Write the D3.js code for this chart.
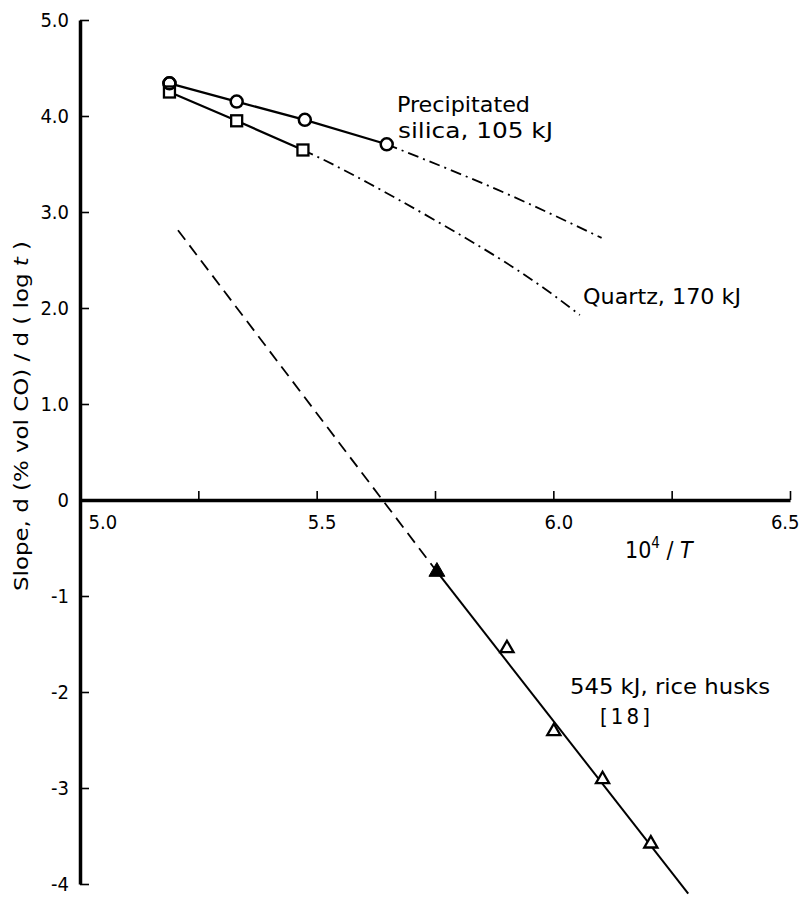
<!DOCTYPE html>
<html>
<head>
<meta charset="utf-8">
<script src="https://cdn.jsdelivr.net/npm/d3@7"></script>
<style>
  html, body { margin: 0; padding: 0; background: #fff; }
  svg { display: block; }
  text { font-family: "DejaVu Sans Condensed", "DejaVu Sans", sans-serif; fill: #000; }
</style>
</head>
<body>
<svg id="chart" width="799" height="898"></svg>
<script>
// ---- data ----
const xTickValues = [5.0, 5.25, 5.5, 5.75, 6.0, 6.25, 6.5];
const xTickLabels = ["5.0", "", "5.5", "", "6.0", "", "6.5"];
const yTickValues = [5, 4, 3, 2, 1, 0, -1, -2, -3, -4];
const yTickLabels = ["5.0", "4.0", "3.0", "2.0", "1.0", "0", "-1", "-2", "-3", "-4"];

// Precipitated silica (circles)
const silicaX = [5.189, 5.331, 5.475, 5.648];
const silicaY = [4.34, 4.15, 3.96, 3.705];
const silicaExtX = [5.648, 5.883, 6.102];
const silicaExtY = [3.705, 3.23, 2.73];

// Quartz (squares)
const quartzX = [5.189, 5.331, 5.471];
const quartzY = [4.25, 3.95, 3.646];
const quartzExtX = [5.471, 5.609, 5.881, 6.056];
const quartzExtY = [3.646, 3.302, 2.531, 1.927];

// Rice husks (triangles)
const riceFilledX = [5.754];
const riceFilledY = [-0.747];
const riceOpenX = [5.902, 6.001, 6.104, 6.206];
const riceOpenY = [-1.545, -2.41, -2.91, -3.58];
const riceDashX = [5.207, 5.754];
const riceDashY = [2.81, -0.747];
const riceSolidX = [5.754, 6.285];
const riceSolidY = [-0.747, -4.10];

// ---- scales ----
const svg = d3.select("#chart");
const x = d3.scaleLinear().domain([5.0, 6.5]).range([80, 790]);
const y = d3.scaleLinear().domain([-4, 5]).range([884, 20]);

const zip = (xs, ys) => xs.map((v, i) => [v, ys[i]]);
const line = d3.line().x(d => x(d[0])).y(d => y(d[1]));
const curve = d3.line().x(d => x(d[0])).y(d => y(d[1])).curve(d3.curveNatural);
const FONT = "'DejaVu Sans Condensed','DejaVu Sans',sans-serif";
const FONT2 = "'DejaVu Sans',sans-serif";

// ---- axes ----
const yAxis = svg.append("g").attr("transform", `translate(${x(5.0)},0)`)
  .call(d3.axisLeft(y).tickValues(yTickValues).tickSizeInner(-9).tickSizeOuter(0)
    .tickPadding(11).tickFormat((d, i) => yTickLabels[i]));
yAxis.attr("font-size", 20).attr("font-family", FONT);
yAxis.select(".domain").attr("stroke-width", 3.5);
yAxis.selectAll(".tick line").attr("stroke-width", 1.6);

const xAxis = svg.append("g").attr("transform", `translate(0,${y(0)})`)
  .call(d3.axisBottom(x).tickValues(xTickValues).tickSizeInner(-9).tickSizeOuter(0)
    .tickPadding(15).tickFormat((d, i) => xTickLabels[i]));
xAxis.attr("font-size", 20).attr("font-family", FONT);
xAxis.select(".domain").attr("stroke-width", 3.5);
xAxis.selectAll(".tick line").attr("stroke-width", 1.6);
xAxis.selectAll(".tick text").attr("dx", 5);
xAxis.selectAll(".tick").filter(d => d === 5.0).select("text").attr("text-anchor", "start").attr("dx", 8);
xAxis.selectAll(".tick").filter(d => d === 5.0).select("line").remove();
xAxis.selectAll(".tick").filter(d => d === 6.5).select("text").attr("text-anchor", "end").attr("dx", 9);

// axis titles
const xt = svg.append("text").attr("x", 625).attr("y", 558).attr("font-size", 23);
xt.append("tspan").text("10");
xt.append("tspan").attr("font-size", 15).attr("dy", -10).text("4");
xt.append("tspan").attr("dy", 10).text(" / ");
xt.append("tspan").attr("font-style", "italic").text("T");

const yt = svg.append("text").attr("transform", "translate(28,416) rotate(-90)")
  .attr("text-anchor", "middle").attr("font-size", 19).style("font-family", FONT2)
  .attr("textLength", 350).attr("lengthAdjust", "spacingAndGlyphs");
yt.append("tspan").text("Slope,  d (% vol CO) / d ( log ");
yt.append("tspan").attr("font-style", "italic").text("t");
yt.append("tspan").text(" )");

// ---- lines ----
const g = svg.append("g").attr("fill", "none").attr("stroke", "#000");
g.append("path").attr("d", line(zip(silicaX, silicaY))).attr("stroke-width", 2.2);
g.append("path").attr("d", line(zip(quartzX, quartzY))).attr("stroke-width", 2.2);
g.append("path").attr("d", curve(zip(silicaExtX, silicaExtY))).attr("stroke-width", 1.8)
  .attr("stroke-dasharray", "11,5,2,5");
g.append("path").attr("d", curve(zip(quartzExtX, quartzExtY))).attr("stroke-width", 1.8)
  .attr("stroke-dasharray", "11,5,2,5");
g.append("path").attr("d", line(zip(riceDashX, riceDashY))).attr("stroke-width", 1.8)
  .attr("stroke-dasharray", "12,7");
g.append("path").attr("d", line(zip(riceSolidX, riceSolidY))).attr("stroke-width", 2);

// ---- markers ----
svg.append("g").selectAll("circle").data(zip(silicaX, silicaY)).join("circle")
  .attr("cx", d => x(d[0])).attr("cy", d => y(d[1])).attr("r", 6)
  .attr("fill", "#fff").attr("stroke", "#000").attr("stroke-width", 2.5);
svg.append("g").selectAll("rect").data(zip(quartzX, quartzY)).join("rect")
  .attr("x", d => x(d[0]) - 5.5).attr("y", d => y(d[1]) - 5.5).attr("width", 11).attr("height", 11)
  .attr("fill", "#fff").attr("stroke", "#000").attr("stroke-width", 2.3);
svg.append("circle").datum([silicaX[0], silicaY[0]])
  .attr("cx", d => x(d[0])).attr("cy", d => y(d[1])).attr("r", 6)
  .attr("fill", "none").attr("stroke", "#000").attr("stroke-width", 2.5);

const tri = d3.symbol().type(d3.symbolTriangle).size(75);
svg.append("g").selectAll("path").data(zip(riceOpenX, riceOpenY)).join("path")
  .attr("transform", d => `translate(${x(d[0])},${y(d[1])})`).attr("d", tri)
  .attr("fill", "#fff").attr("stroke", "#000").attr("stroke-width", 2.3);
svg.append("g").selectAll("path").data(zip(riceFilledX, riceFilledY)).join("path")
  .attr("transform", d => `translate(${x(d[0])},${y(d[1])})`).attr("d", d3.symbol().type(d3.symbolTriangle).size(110))
  .attr("fill", "#000").attr("stroke", "#000").attr("stroke-width", 1);

// ---- annotations ----
const ann = svg.append("g").attr("font-size", 22).style("font-family", FONT);
ann.append("text").attr("x", 397).attr("y", 112).attr("textLength", 133).attr("lengthAdjust", "spacingAndGlyphs").text("Precipitated");
ann.append("text").attr("x", 398).attr("y", 138).attr("textLength", 155).attr("lengthAdjust", "spacingAndGlyphs").text("silica, 105 kJ");
ann.append("text").attr("x", 583).attr("y", 304).attr("textLength", 158).attr("lengthAdjust", "spacingAndGlyphs").text("Quartz, 170 kJ");
ann.append("text").attr("x", 570).attr("y", 694).attr("textLength", 200).attr("lengthAdjust", "spacingAndGlyphs").text("545 kJ, rice husks");
ann.append("text").attr("x", 600).attr("y", 724).attr("textLength", 50).attr("lengthAdjust", "spacing").text("[18]");
</script>
</body>
</html>
